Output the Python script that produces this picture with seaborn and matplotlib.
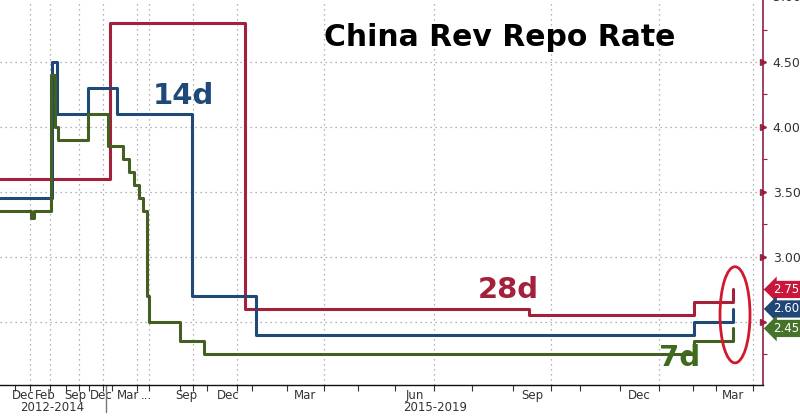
"""China reverse repo rates (7d / 14d / 28d) as step lines on a broken timeline."""

import matplotlib.pyplot as plt
import matplotlib.transforms as mtransforms
from matplotlib.patches import Ellipse
import seaborn as sns

# timeline units: the x axis is a compressed, broken calendar (0 .. 763)
X_MAX = 763

# step change points (timeline position, rate in %)
RATE_28D_X = [0, 110, 245, 529, 694, 733]
RATE_28D_Y = [3.60, 4.80, 2.60, 2.55, 2.65, 2.75]

RATE_14D_X = [0, 52, 57, 88, 117, 192, 256, 694, 733]
RATE_14D_Y = [3.45, 4.50, 4.10, 4.30, 4.10, 2.70, 2.40, 2.50, 2.60]

RATE_7D_X = [0, 31, 34, 51, 55, 58, 88, 108, 123, 129, 134, 139, 143,
             147, 149, 180, 204, 694, 733]
RATE_7D_Y = [3.35, 3.30, 3.35, 4.40, 4.00, 3.90, 4.10, 3.85, 3.75, 3.65,
             3.55, 3.45, 3.35, 2.70, 2.50, 2.35, 2.25, 2.35, 2.45]

LAST_VALUES = [2.75, 2.60, 2.45]

# x axis: month labels, their gridlines and the monthly minor ticks
MONTH_LABELS = ["Dec", "Feb", "Sep", "Dec", "Mar", "...", "Sep", "Dec",
                "Mar", "Jun", "Sep", "Dec", "Mar"]
MONTH_LABEL_X = [23, 45, 75, 101, 128, 146, 186, 228, 305, 415, 532, 639, 733]
GRID_X = [30, 50, 79, 103, 137, 149, 193, 237, 324, 434, 551, 659, 753]
MINOR_X = [15, 30, 50, 66, 79, 89, 103, 112, 137, 149, 180, 193, 207, 237,
           252, 287, 324, 358, 395, 434, 472, 513, 551, 580, 620, 659, 693,
           716, 753]
PERIOD_LABELS = ["2012-2014", "2015-2019"]
PERIOD_X = [52, 435]
PERIOD_BREAK_X = 106

Y_TICKS = [2.5, 3.0, 3.5, 4.0, 4.5]
Y_MINOR = [2.25, 2.75, 3.25, 3.75, 4.25, 4.75]

RED = "#a3213b"
BLUE = "#1f4a78"
GREEN = "#435f22"
BOX_COLORS = ["#c8173a", "#1f4676", "#46732a"]


def main() -> None:
    sns.set_theme(style="white")
    plt.rcParams["font.family"] = ["DejaVu Sans"]

    fig = plt.figure(figsize=(8.0, 4.18), dpi=100)
    ax = fig.add_axes([0.0, 33 / 418, X_MAX / 800, 385 / 418])

    for xs, ys, color in [
        (RATE_28D_X, RATE_28D_Y, RED),
        (RATE_14D_X, RATE_14D_Y, BLUE),
        (RATE_7D_X, RATE_7D_Y, GREEN),
    ]:
        sns.lineplot(x=xs, y=ys, ax=ax, color=color, linewidth=2.2,
                     drawstyle="steps-post", estimator=None, sort=False,
                     zorder=3)

    ax.set_xlim(0, X_MAX)
    ax.set_ylim(2.015, 4.977)

    # grid
    for gx in GRID_X:
        ax.axvline(gx, color="#9a9a9a", linestyle=(0, (1, 3)), linewidth=0.9,
                   zorder=1)
    for gy in Y_TICKS:
        ax.axhline(gy, color="#9a9a9a", linestyle=(0, (1, 3)), linewidth=0.9,
                   zorder=1)

    # spines
    for side in ["top", "left"]:
        ax.spines[side].set_visible(False)
    ax.spines["right"].set_color("#8a2046")
    ax.spines["right"].set_linewidth(1.2)
    ax.spines["bottom"].set_color("#111111")
    ax.spines["bottom"].set_linewidth(1.0)

    # x ticks
    ax.set_xticks(MONTH_LABEL_X, MONTH_LABELS)
    ax.set_xticks(MINOR_X, minor=True)
    ax.tick_params(axis="x", which="major", length=0, pad=3, labelsize=8.5,
                   labelcolor="#333333")
    ax.tick_params(axis="x", which="minor", length=4, width=0.8,
                   color="#333333", direction="out", bottom=True)
    xtrans = mtransforms.blended_transform_factory(ax.transData, ax.transAxes)
    for label, px in zip(PERIOD_LABELS, PERIOD_X):
        ax.text(px, -0.058, label, transform=xtrans, ha="center", va="center",
                fontsize=8.5, color="#333333")
    ax.plot([PERIOD_BREAK_X, PERIOD_BREAK_X], [0, -0.07], transform=xtrans,
            color="#777777", linewidth=1, clip_on=False)

    # y ticks on the right
    ax.yaxis.tick_right()
    ax.set_yticks(Y_TICKS, ["", "3.00", "3.50", "4.00", "4.50"])
    ax.set_yticks(Y_MINOR, minor=True)
    ax.tick_params(axis="y", which="major", length=0, pad=7, labelsize=9,
                   labelcolor="#333333")
    ax.tick_params(axis="y", which="minor", length=3, width=0.8,
                   color="#8a2046", direction="out", right=True)
    ytrans = mtransforms.blended_transform_factory(ax.transAxes, ax.transData)
    ax.plot([1.0] * len(Y_TICKS), Y_TICKS, transform=ytrans, linestyle="none",
            marker=">", markersize=4, color="#a3213b", clip_on=False)
    ax.text(1.0 + 10 / X_MAX, 5.00, "5.00", transform=ytrans, ha="left",
            va="center", fontsize=9, color="#333333", clip_on=False)

    # last-value tags
    for value, color in zip(LAST_VALUES, BOX_COLORS):
        ax.text(1.0 + 10 / X_MAX, value, f"{value:.2f}", transform=ytrans,
                ha="left", va="center", fontsize=8.5, color="white",
                clip_on=False,
                bbox=dict(boxstyle="larrow,pad=0.18", facecolor=color,
                          edgecolor="none"))

    # highlight ellipse around the latest hikes
    ax.add_patch(Ellipse((735, 2.555), width=30, height=0.74, fill=False,
                         edgecolor="#d3182d", linewidth=2, zorder=4))

    # labels
    ax.text(500, 4.685, "China Rev Repo Rate", ha="center", va="center",
            fontsize=21.5, fontweight="bold", color="black")
    ax.text(183, 4.24, "14d", ha="center", va="center", fontsize=21,
            fontweight="bold", color=BLUE)
    ax.text(508, 2.746, "28d", ha="center", va="center", fontsize=21,
            fontweight="bold", color=RED)
    ax.text(680, 2.225, "7d", ha="center", va="center", fontsize=21,
            fontweight="bold", color="#3e6b1e")

    fig.savefig("out.png", dpi=100, facecolor="white")
    plt.close(fig)


if __name__ == "__main__":
    main()
